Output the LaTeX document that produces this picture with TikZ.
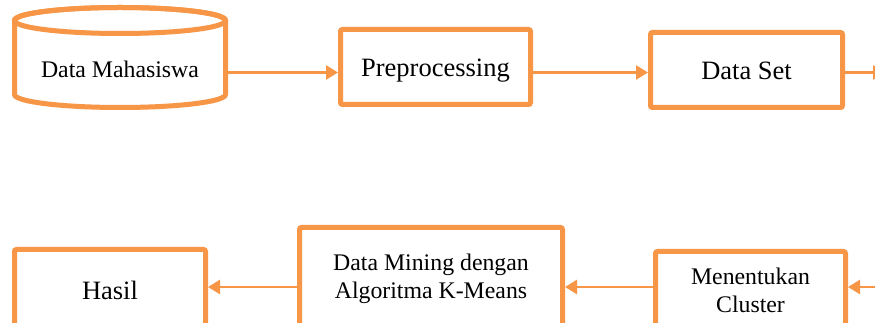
\documentclass[tikz,border=0pt]{standalone}
\usepackage{fontspec}
\setmainfont{Liberation Serif}
\usetikzlibrary{arrows.meta}
\definecolor{accent}{HTML}{F79646}
\begin{document}
\begin{tikzpicture}[x=1pt,y=1pt,
  box/.style={draw=accent, line width=5pt, rounded corners=2pt, fill=white, align=center, inner sep=0pt},
  conn/.style={draw=accent, line width=2.6pt, -{Triangle[length=12pt,width=14pt]}},
  big/.style={font=\fontsize{26.5}{30}\selectfont, text height=19pt, text depth=0pt},
  mid/.style={font=\fontsize{23.8}{28}\selectfont}]
\clip (0,0) rectangle (875,323);
\fill[white] (0,0) rectangle (875,323);
% cylinder
\filldraw[draw=accent, fill=white, line width=5pt] (14.5,302.5) -- (14.5,228.5)
  arc[start angle=180, end angle=360, x radius=105.5, y radius=13] -- (225.5,302.5)
  arc[start angle=0, end angle=180, x radius=105.5, y radius=13] -- cycle;
\draw[accent, line width=5pt] (120,302.5) ellipse [x radius=105.5, y radius=13];
\node[mid, inner sep=0pt, outer sep=0pt, minimum width=216, text height=17pt, text depth=0pt] (mhs) at (120,253.5) {Data Mahasiswa};
% top row
\node[box, big, minimum width=190, minimum height=75] (pre) at (435.5,256) {Preprocessing};
\node[box, big, minimum width=192, minimum height=75] (ds) at (746.5,253) {Data Set};
\coordinate (outR) at (885,250.5);
% bottom row
\node[box, big, minimum width=191, minimum height=81] (hasil) at (110,33) {Hasil};
\node[box, mid, minimum width=263, minimum height=103] (dm) at (431,44) {Data Mining dengan\\Algoritma K-Means};
\node[box, mid, minimum width=190, minimum height=77] (mc) at (750.5,33) {Menentukan\\Cluster};
\coordinate (inR) at (900,36);
% connectors
\draw[conn] (mhs.east |- 0,250.5) -- (pre.west |- 0,250.5);
\draw[conn] (pre.east |- 0,250.5) -- (ds.west |- 0,250.5);
\draw[conn] (ds.east |- 0,250.5) -- (outR);
\draw[conn] (inR) -- (mc.east |- 0,36);
\draw[conn] (mc.west |- 0,36) -- (dm.east |- 0,36);
\draw[conn] (dm.west |- 0,36) -- (hasil.east |- 0,36);
\end{tikzpicture}
\end{document}
